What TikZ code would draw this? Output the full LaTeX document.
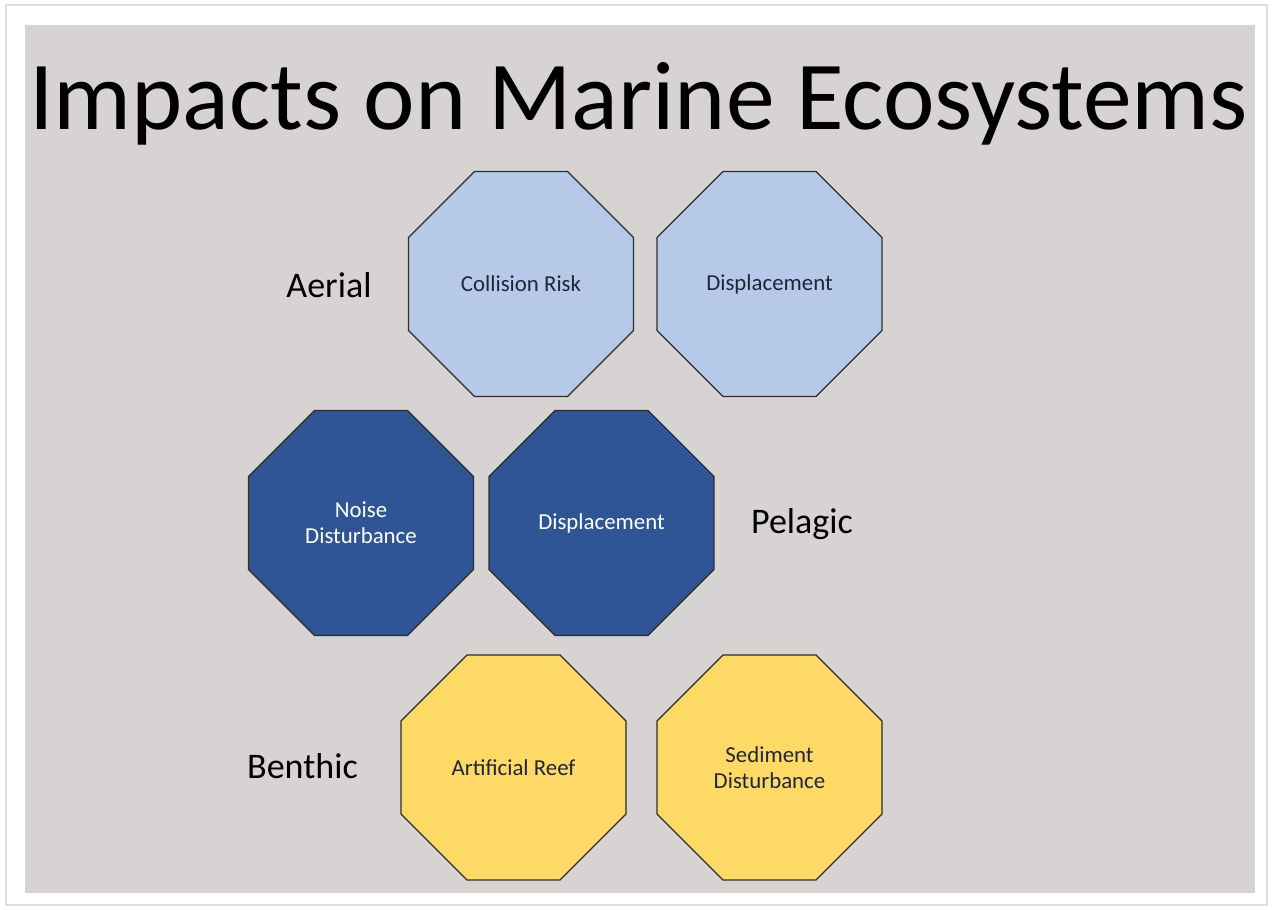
\documentclass[tikz,border=0pt]{standalone}
\usepackage{fontspec}
\setmainfont{Carlito}
\usepackage{tikz}
\usetikzlibrary{shapes.geometric}
\definecolor{slidegray}{RGB}{215,211,211}
\definecolor{airblue}{RGB}{182,201,233}
\definecolor{seablue}{RGB}{47,85,151}
\definecolor{sandyellow}{RGB}{255,217,102}
\definecolor{octline}{RGB}{45,45,45}
\definecolor{octtext}{RGB}{30,38,56}
\tikzset{inv/.style={opacity=0}}

\begin{document}
\begin{tikzpicture}[x=0.02cm, y=-0.02cm]
\tikzstyle{octstyle} = [regular polygon, regular polygon sides=8, minimum size=4.87cm, inner sep=0pt, draw=octline, line width=0.7pt, align=center, font=\fontsize{13}{15}\selectfont]
\tikzstyle{zonestyle} = [anchor=base, font=\fontsize{20.5}{24}\selectfont]
\useasboundingbox (0,0) rectangle (1273,909);
\fill[white] (0,0) rectangle (1273,909);
\draw[gray!25, line width=0.8pt] (6,5) rectangle (1267,905);
\fill[slidegray] (25,25) rectangle (1255,893);
\node[anchor=base, inner sep=0pt, font=\fontsize{55.5}{60}\selectfont](T) at (638.5, 130){Impacts on Marine Ecosystems};
\node[octstyle, fill=airblue, text=octtext](CR) at (521, 284){Collision Risk};
\node[octstyle, fill=airblue, text=octtext](DA) at (769.5, 284){Displacement};
\node[octstyle, fill=seablue, text=white](ND) at (361, 523){Noise\\Disturbance};
\node[octstyle, fill=seablue, text=white](DP) at (601.5, 523){Displacement};
\node[octstyle, fill=sandyellow, text=octtext](AR) at (513.5, 767.5){Artificial Reef};
\node[octstyle, fill=sandyellow, text=octtext](SD) at (769.5, 767.5){Sediment\\Disturbance};
\node[zonestyle](Aer) at (329, 297){Aerial};
\node[zonestyle](Pel) at (802, 533){Pelagic};
\node[zonestyle](Ben) at (302.5, 778){Benthic};
\end{tikzpicture}
\end{document}
